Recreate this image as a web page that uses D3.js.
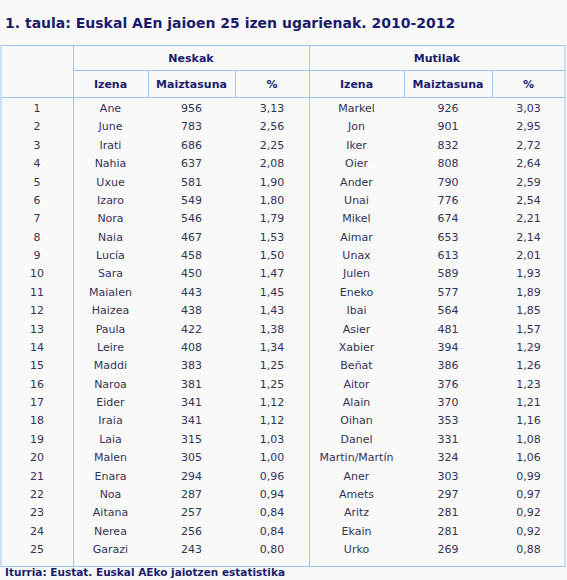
<!DOCTYPE html><html><head><meta charset="utf-8">
<script src="https://cdn.jsdelivr.net/npm/d3@7"></script>
<style>body{margin:0;background:#f9f9fa}</style></head><body><svg id="c" width="567" height="580"></svg>
<script>
const ranks=d3.range(1,26);
const girlNames=["Ane","June","Irati","Nahia","Uxue","Izaro","Nora","Naia","Lucía","Sara","Maialen","Haizea","Paula","Leire","Maddi","Naroa","Eider","Iraia","Laia","Malen","Enara","Noa","Aitana","Nerea","Garazi"];
const girlFreq=[956,783,686,637,581,549,546,467,458,450,443,438,422,408,383,381,341,341,315,305,294,287,257,256,243];
const girlPct=["3,13","2,56","2,25","2,08","1,90","1,80","1,79","1,53","1,50","1,47","1,45","1,43","1,38","1,34","1,25","1,25","1,12","1,12","1,03","1,00","0,96","0,94","0,84","0,84","0,80"];
const boyNames=["Markel","Jon","Iker","Oier","Ander","Unai","Mikel","Aimar","Unax","Julen","Eneko","Ibai","Asier","Xabier","Beñat","Aitor","Alain","Oihan","Danel","Martin/Martín","Aner","Amets","Aritz","Ekain","Urko"];
const boyFreq=[926,901,832,808,790,776,674,653,613,589,577,564,481,394,386,376,370,353,331,324,303,297,281,281,269];
const boyPct=["3,03","2,95","2,72","2,64","2,59","2,54","2,21","2,14","2,01","1,93","1,89","1,85","1,57","1,29","1,26","1,23","1,21","1,16","1,08","1,06","0,99","0,97","0,92","0,92","0,88"];
const colHeads=["Izena","Maiztasuna","%","Izena","Maiztasuna","%"];
const groups=["Neskak","Mutilak"];

const svg=d3.select("#c");
const F="DejaVu Sans, Verdana, sans-serif", navy="#1b1b6b", line="#9ec5ee";
const edges=[1,73,148,235,309,404,492,565];
const y=d3.scaleLinear().domain([1,25]).range([108,549]);
svg.append("text").attr("x",5).attr("y",28).attr("font-family",F).attr("font-size",14).attr("font-weight","bold").attr("fill",navy).text("1. taula: Euskal AEn jaioen 25 izen ugarienak. 2010-2012");
svg.append("rect").attr("x",1).attr("y",45.5).attr("width",564).attr("height",521).attr("fill","none").attr("stroke",line);
const L=(x1,y1,x2,y2)=>svg.append("line").attr("x1",x1).attr("y1",y1).attr("x2",x2).attr("y2",y2).attr("stroke",line);
L(73.5,45,73.5,567);L(309.5,45,309.5,567);L(73,70.5,565,70.5);L(1,97.5,565,97.5);
[148.5,235.5,404.5,492.5].forEach(x=>L(x,70,x,98));
const T=(x,yy,t,o={})=>svg.append("text").attr("x",x).attr("y",yy).attr("text-anchor","middle").attr("font-family",F).attr("font-size",o.s||11).attr("font-weight",o.b?"bold":"normal").attr("fill",o.c||"#333344").text(t);
T((73+309)/2,62,groups[0],{b:1,c:navy});T((309+565)/2,62,groups[1],{b:1,c:navy});
colHeads.forEach((h,i)=>T((edges[i+1]+edges[i+2])/2,88,h,{b:1,c:navy}));
const cols=[ranks,girlNames,girlFreq,girlPct,boyNames,boyFreq,boyPct];
ranks.forEach((r,j)=>cols.forEach((c,i)=>T((edges[i]+edges[i+1])/2,y(r)+4,c[j],{c:"#333355"})));
svg.append("text").attr("x",5).attr("y",576).attr("font-family",F).attr("font-size",10.5).attr("font-weight","bold").attr("fill",navy).text("Iturria: Eustat. Euskal AEko jaiotzen estatistika");
</script></body></html>
